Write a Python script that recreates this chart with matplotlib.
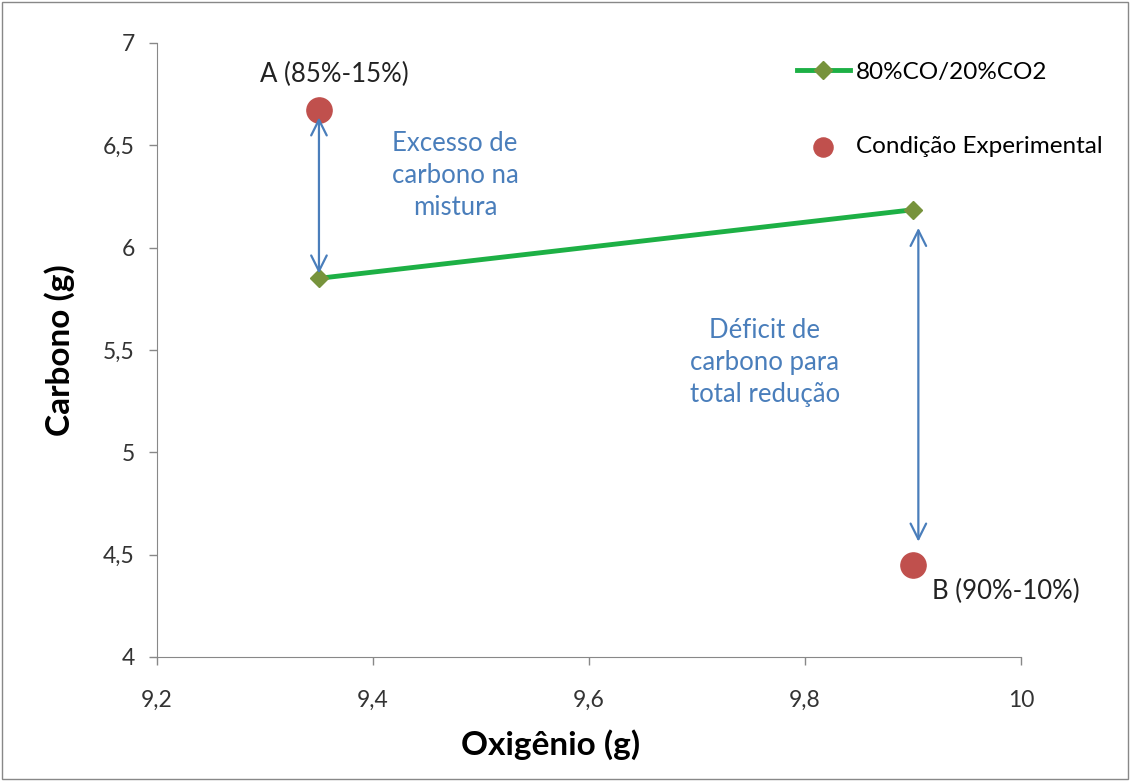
import matplotlib.pyplot as plt
from matplotlib.patches import Rectangle

plt.rcParams['font.family'] = ['Lato', 'DejaVu Sans']

# data
oxig_linha = [9.35, 9.90]
carb_linha = [5.85, 6.185]
oxig_exp = [9.35, 9.90]
carb_exp = [6.67, 4.45]
rotulos_exp = ['A (85%-15%)', 'B (90%-10%)']
x_ticks = [9.2, 9.4, 9.6, 9.8, 10.0]
y_ticks = [4, 4.5, 5, 5.5, 6, 6.5, 7]

azul = '#4A7EBB'

fig = plt.figure(figsize=(11.3, 7.81), dpi=100)
ax = fig.add_axes([0.1389, 0.1588, 0.7646, 0.7862])

ax.plot(oxig_linha, carb_linha, color='#1DB045', lw=3.5, marker='D', ms=9,
        mfc='#77933C', mec='#77933C', label='80%CO/20%CO2', zorder=3)
ax.scatter(oxig_exp, carb_exp, s=330, color='#C0504D', label='Condição Experimental',
           zorder=3)

ax.text(9.364, 6.845, rotulos_exp[0], fontsize=18.5, ha='center', va='center',
        color='#222222')
ax.text(9.918, 4.32, rotulos_exp[1], fontsize=18.5, ha='left', va='center',
        color='#222222')

# setas
seta = dict(arrowstyle='<->', color=azul, lw=1.6, mutation_scale=28)
ax.annotate('', xy=(9.35, 6.65), xytext=(9.35, 5.86), arrowprops=seta)
ax.annotate('', xy=(9.905, 6.11), xytext=(9.905, 4.55), arrowprops=seta)

ax.text(9.476, 6.35, 'Excesso de\ncarbono na\nmistura', fontsize=18.5, color=azul,
        ha='center', va='center', linespacing=1.35)
ax.text(9.763, 5.44, 'Déficit de\ncarbono para\ntotal redução', fontsize=18.5, color=azul,
        ha='center', va='center', linespacing=1.35)

ax.set_xlim(9.2, 10.0)
ax.set_ylim(4, 7)
ax.set_xticks(x_ticks)
ax.set_xticklabels([f'{v:g}'.replace('.', ',') for v in x_ticks])
ax.set_yticks(y_ticks)
ax.set_yticklabels([f'{v:g}'.replace('.', ',') for v in y_ticks])
ax.tick_params(labelsize=16.5, colors='#333333', length=6, width=1, color='#888888', pad=10)
ax.tick_params(axis='x', pad=18)
for s in ['top', 'right']:
    ax.spines[s].set_visible(False)
for s in ['left', 'bottom']:
    ax.spines[s].set_color('#888888')

ax.set_xlabel('Oxigênio (g)', fontsize=24, fontweight='bold')
ax.xaxis.set_label_coords(0.456, -0.118)
ax.set_ylabel('Carbono (g)', fontsize=24, fontweight='bold', labelpad=20)

leg = ax.legend(loc='upper left', bbox_to_anchor=(0.729, 0.985), frameon=False,
                fontsize=17.5, handlelength=2.2, labelspacing=2.2, handletextpad=0.25,
                borderaxespad=0)
leg.legend_handles[1].set_sizes([190])

fig.patches.append(Rectangle((0.002, 0.002), 0.996, 0.996, transform=fig.transFigure,
                             fill=False, ec='#888888', lw=1))

fig.savefig('out.png', dpi=100)
